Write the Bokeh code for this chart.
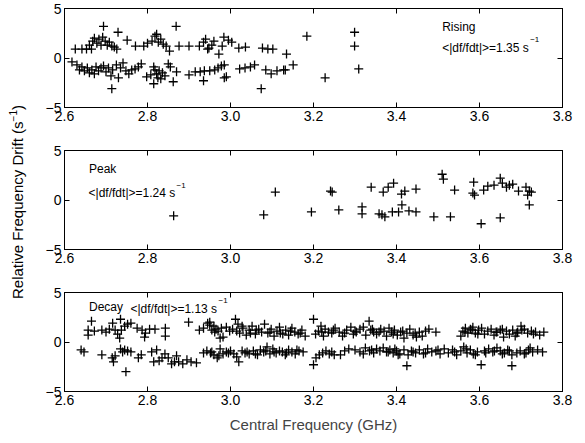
from bokeh.plotting import figure
from bokeh.layouts import column, row
from bokeh.models import (Div, Label, LinearAxis, FixedTicker, NumeralTickFormatter,
                          CustomJSTickFormatter, Range1d)
from bokeh.embed import file_html
from bokeh.resources import INLINE

X_TICKS = [2.6, 2.8, 3.0, 3.2, 3.4, 3.6, 3.8]
Y_TICKS = [-5, 0, 5]

# ---- Rising ----
rise_x = [2.694, 2.869, 2.729, 2.751, 2.626, 2.642, 2.653, 2.665, 2.660, 2.668, 2.672, 2.678,
          2.683, 2.688, 2.692, 2.698, 2.703, 2.708, 2.714, 2.726, 2.720, 2.771, 2.791, 2.800,
          2.811, 2.818, 2.822, 2.826, 2.832, 2.838, 2.845, 2.853, 2.876, 2.900, 2.925, 2.935,
          2.940, 2.948, 2.955, 2.960, 2.945, 2.972, 2.980, 2.984, 2.995, 3.003, 3.020, 3.036,
          3.077, 3.090, 3.102, 3.135, 3.184, 3.299, 3.299,
          2.618, 2.630, 2.636, 2.642, 2.648, 2.655, 2.660, 2.666, 2.672, 2.676, 2.682, 2.688,
          2.694, 2.700, 2.706, 2.712, 2.716, 2.725, 2.730, 2.735, 2.741, 2.748, 2.755, 2.762,
          2.770, 2.778, 2.785, 2.714, 2.798, 2.808, 2.815, 2.818, 2.822, 2.825, 2.828, 2.832,
          2.836, 2.842, 2.815, 2.850, 2.855, 2.862, 2.870, 2.900, 2.915, 2.927, 2.937, 2.935,
          2.950, 2.962, 2.970, 2.978, 2.985, 2.990, 2.985, 3.022, 3.035, 3.048, 3.058, 3.074,
          3.085, 3.098, 3.112, 3.128, 3.132, 3.151, 3.228, 3.309]
rise_y = [3.2, 3.2, 2.6, 1.8, 0.9, 0.9, 0.9, 0.9, 1.3, 1.7, 2.0, 1.5,
          1.9, 1.3, 2.1, 1.7, 1.3, 1.6, 1.2, 0.9, 1.1, 1.2, 1.2, 1.5,
          1.7, 2.2, 2.4, 1.6, 1.9, 1.4, 1.2, 0.7, 1.2, 1.2, 1.2, 1.6,
          1.9, 1.0, 1.3, 1.7, 0.9, 0.4, 1.2, 2.1, 1.8, 1.6, 1.0, 1.1,
          1.0, 0.9, 0.9, 0.4, 2.2, 2.6, 1.2,
          -0.4, -0.7, -1.2, -0.9, -1.3, -1.0, -1.5, -1.2, -1.6, -0.9, -1.3, -1.0,
          -0.8, -1.4, -1.0, -1.8, -1.2, -0.7, -2.0, -1.0, -0.5, -1.3, -1.6, -1.2,
          -1.1, -0.9, -0.6, -3.1, -1.9, -1.7, -0.9, -1.2, -1.6, -2.0, -1.3, -2.1,
          -1.5, -1.8, -2.6, -0.6, -0.9, -2.4, -1.4, -1.7, -1.4, -1.4, -1.3, -2.3,
          -1.3, -1.2, -1.0, -0.8, -0.7, -1.9, -2.0, -1.1, -1.0, -0.9, -0.7, -3.1,
          -1.2, -1.6, -1.3, -1.2, -1.2, -0.7, -2.0, -1.1]

# ---- Peak ----
peak_x = [2.863, 3.080, 3.108, 3.195, 3.241, 3.245, 3.261, 3.317, 3.317, 3.339, 3.358, 3.365,
          3.372, 3.368, 3.380, 3.393, 3.390, 3.405, 3.412, 3.420, 3.413, 3.430, 3.447, 3.447,
          3.490, 3.510, 3.513, 3.530, 3.540, 3.586, 3.584, 3.588, 3.604, 3.610, 3.620, 3.635,
          3.650, 3.655, 3.650, 3.665, 3.672, 3.680, 3.694, 3.712, 3.716, 3.720, 3.725, 3.720]
peak_y = [-1.6, -1.5, 0.8, -1.2, 0.9, 0.8, -1.0, -0.7, -1.4, 1.3, -1.4, -1.5,
          -1.7, 0.8, 1.3, 1.7, -1.2, -1.2, 0.6, 0.9, -0.5, -1.1, -1.2, 1.1,
          -1.7, 2.6, 2.1, -1.7, 1.0, 1.8, 0.7, 0.5, -2.4, 1.0, 1.4, 1.5,
          2.2, 1.7, -1.8, 1.3, 1.5, 1.6, 0.9, 1.3, 0.5, 0.9, 0.8, -0.5]

# ---- Decay ----
decay_up_x = [2.657, 2.657, 2.665, 2.672, 2.690, 2.700, 2.708, 2.716, 2.722, 2.728, 2.733, 2.737,
              2.735, 2.745, 2.752, 2.760, 2.775, 2.787, 2.793, 2.795, 2.805, 2.818, 2.843, 2.843,
              2.899, 2.925, 2.935, 2.945, 2.950, 2.955, 2.960, 2.965, 2.970, 2.975, 2.982, 2.990,
              2.998, 3.005, 3.012, 3.018, 3.022, 3.030, 3.038, 3.045, 3.052, 3.060, 3.068, 3.075,
              3.082, 3.090, 3.098, 3.105, 3.112, 3.118, 3.126, 3.133, 3.140, 3.148, 3.155, 3.163,
              3.172, 3.180, 3.200, 3.205, 3.212, 3.218, 3.224, 3.228, 3.236, 3.244, 3.252, 3.262,
              3.270, 3.280, 3.290, 3.296, 3.303, 3.312, 3.320, 3.326, 3.334, 3.338, 3.345, 3.352,
              3.362, 3.370, 3.376, 3.382, 3.388, 3.395, 3.402, 3.410, 3.418, 3.425, 3.432, 3.440,
              3.448, 3.455, 3.462, 3.470, 3.478, 3.495, 3.555, 3.560, 3.566, 3.572, 3.578, 3.584,
              3.590, 3.598, 3.605, 3.612, 3.620, 3.628, 3.635, 3.642, 3.650, 3.658, 3.665, 3.672,
              3.680, 3.686, 3.692, 3.700, 3.708, 3.716, 3.725, 3.735, 3.745, 3.755,
              2.950, 2.962, 2.978, 3.015, 3.028, 3.048, 3.062, 3.095, 3.120, 3.145, 3.168, 3.220,
              3.248, 3.275, 3.300, 3.342, 3.358, 3.392, 3.415, 3.445, 3.565, 3.582, 3.596, 3.640,
              3.655, 3.690, 3.702, 3.730]
decay_up_y = [1.2, 0.7, 2.1, 1.1, 1.2, 1.0, 1.3, 1.9, 1.2, 0.8, 0.4, 1.2,
              2.3, 1.6, 1.8, 1.9, 1.4, 1.2, 0.5, 0.9, 1.3, 1.3, 1.4, 0.6,
              2.0, 1.2, 1.4, 1.9, 2.0, 1.2, 1.6, 1.3, 1.1, 0.4, 0.5, 1.5,
              1.1, 1.3, 2.3, 1.8, 0.9, 1.4, 0.7, 1.2, 1.6, 0.8, 1.3, 1.0,
              1.8, 0.9, 1.3, 0.6, 1.1, 1.5, 0.8, 1.2, 0.7, 1.4, 1.0, 0.8,
              1.2, 0.6, 2.3, 0.8, 1.1, 1.6, 0.6, 1.3, 1.0, 0.9, 1.4, 1.0,
              0.6, 1.2, 1.5, 0.8, 1.0, 1.3, 1.5, 0.7, 2.1, 1.2, 1.0, 0.8,
              1.3, 1.1, 0.6, 1.4, 1.0, 1.2, 0.7, 1.0, 0.4, 0.9, 1.3, 0.7,
              0.5, 1.0, 0.6, 1.1, 1.3, 1.0, 0.6, 1.1, 1.4, 0.9, 1.3, 1.5,
              0.9, 1.2, 1.4, 0.8, 1.1, 1.3, 0.7, 1.0, 1.2, 0.5, 1.1, 0.8,
              1.2, 0.6, 1.0, 1.6, 1.3, 0.9, 1.1, 1.0, 0.7, 1.0,
              1.7, 1.0, 1.4, 1.1, 1.6, 0.9, 1.2, 1.0, 0.9, 1.1, 0.9, 1.0,
              1.2, 0.9, 1.1, 1.3, 1.0, 0.8, 1.1, 0.9, 1.0, 1.2, 0.8, 1.0,
              1.3, 0.9, 1.2, 0.8]
decay_dn_x = [2.640, 2.647, 2.690, 2.715, 2.718, 2.722, 2.735, 2.740, 2.745, 2.752, 2.760, 2.748,
              2.778, 2.785, 2.810, 2.815, 2.822, 2.828, 2.835, 2.842, 2.850, 2.858, 2.865, 2.870,
              2.875, 2.885, 2.895, 2.905, 2.918, 2.935, 2.943, 2.952, 2.960, 2.968, 2.975, 2.982,
              2.990, 3.000, 3.008, 3.015, 3.020, 3.028, 3.035, 3.045, 3.055, 3.065, 3.072, 3.080,
              3.088, 3.095, 3.102, 3.110, 3.118, 3.125, 3.132, 3.140, 3.148, 3.156, 3.165, 3.175,
              3.200, 3.206, 3.214, 3.222, 3.230, 3.238, 3.250, 3.265, 3.275, 3.285, 3.300, 3.312,
              3.325, 3.335, 3.345, 3.352, 3.360, 3.368, 3.376, 3.384, 3.392, 3.400, 3.408, 3.425,
              3.418, 3.428, 3.436, 3.446, 3.455, 3.465, 3.475, 3.485, 3.495, 3.505, 3.515, 3.525,
              3.535, 3.545, 3.555, 3.562, 3.570, 3.578, 3.585, 3.595, 3.604, 3.612, 3.622, 3.632,
              3.642, 3.650, 3.660, 3.668, 3.678, 3.678, 3.690, 3.698, 3.708, 3.718, 3.728, 3.740,
              3.752,
              2.955, 2.972, 2.995, 3.040, 3.060, 3.085, 3.105, 3.135, 3.160, 3.244, 3.320, 3.340,
              3.380, 3.396, 3.404, 3.440, 3.470, 3.500, 3.540, 3.568, 3.590, 3.615, 3.636, 3.655,
              3.672, 3.712, 3.722]
decay_dn_y = [-0.8, -1.0, -1.3, -1.6, -2.0, -1.4, -0.7, -1.0, -0.8, -0.9, -1.0, -3.0,
              -1.6, -1.3, -1.0, -2.0, -0.8, -1.9, -1.6, -1.2, -1.6, -2.2, -2.0, -1.4,
              -2.0, -2.2, -1.8, -2.0, -2.1, -1.1, -0.9, -1.1, -1.3, -1.6, -0.7, -1.2,
              -1.0, -0.9, -1.2, -1.5, -2.0, -0.9, -1.1, -1.2, -0.9, -1.3, -0.8, -1.0,
              -0.5, -1.2, -0.7, -1.1, -0.9, -1.0, -1.3, -0.8, -1.0, -1.2, -0.9, -1.0,
              -2.3, -1.6, -1.3, -1.1, -0.9, -1.2, -1.3, -1.3, -0.9, -0.7, -0.8, -1.0,
              -0.6, -0.9, -1.1, -0.7, -0.9, -0.6, -1.0, -0.8, -1.1, -0.9, -1.2, -2.4,
              -0.8, -1.3, -0.9, -1.1, -0.8, -1.2, -0.7, -1.0, -0.9, -1.2, -0.7, -1.1,
              -0.8, -1.3, -0.9, -0.5, -1.1, -0.8, -1.2, -1.0, -2.3, -0.9, -0.7, -1.0,
              -0.6, -0.9, -1.1, -0.8, -1.3, -2.4, -1.1, -0.9, -1.2, -0.8, -1.0, -0.8,
              -1.0,
              -1.0, -1.4, -1.1, -1.0, -1.2, -0.9, -1.0, -1.1, -0.8, -1.0, -1.2, -0.8,
              -1.0, -0.7, -1.3, -1.0, -1.1, -0.8, -1.0, -0.7, -1.3, -1.1, -0.9, -1.2,
              -0.9, -1.1, -0.6]

RISE_TXT = "<|df/fdt|>=1.35 s"
PEAK_TXT = "<|df/fdt|>=1.24 s"
DECAY_TXT = "<|df/fdt|>=1.13 s"
SUP = "\u22121"

FONT = "Liberation Sans"


def make_panel(height, bt, bb, xlabel=None):
    p = figure(width=540, height=height, x_range=Range1d(2.6, 3.8), y_range=Range1d(-5, 5),
               output_backend="svg", toolbar_location=None,
               min_border_left=28, min_border_right=14, min_border_top=bt, min_border_bottom=bb)
    p.grid.visible = False
    p.outline_line_color = "black"
    p.outline_line_alpha = 1.0
    p.outline_line_width = 1
    p.background_fill_color = "white"
    p.border_fill_color = "white"

    xa = p.xaxis[0]
    xa.ticker = FixedTicker(ticks=X_TICKS)
    xa.formatter = NumeralTickFormatter(format="0.0")
    ya = p.yaxis[0]
    ya.ticker = FixedTicker(ticks=Y_TICKS)
    ya.formatter = CustomJSTickFormatter(code="return tick < 0 ? '\\u2212' + Math.abs(tick) : String(tick);")
    for ax in (xa, ya):
        ax.major_tick_in = 5
        ax.major_tick_out = 0
        ax.minor_tick_line_color = None
        ax.major_label_text_font = FONT
        ax.major_label_text_font_size = "14px"
        ax.major_label_text_color = "black"
        ax.axis_line_color = "black"
        ax.major_tick_line_color = "black"
        ax.major_label_standoff = 3
    if xlabel:
        xa.axis_label = xlabel
        xa.axis_label_text_font = FONT
        xa.axis_label_text_font_size = "15px"
        xa.axis_label_text_font_style = "normal"
        xa.axis_label_standoff = 8

    # mirrored ticks and box lines on top and right
    top = LinearAxis(ticker=FixedTicker(ticks=X_TICKS),
                     formatter=CustomJSTickFormatter(code="return '';"))
    right = LinearAxis(ticker=FixedTicker(ticks=Y_TICKS),
                       formatter=CustomJSTickFormatter(code="return '';"))
    for ax in (top, right):
        ax.major_tick_in = 5
        ax.major_tick_out = 0
        ax.minor_tick_line_color = None
        ax.axis_line_color = "black"
        ax.major_label_standoff = 0
        ax.major_label_text_font_size = "5px"
        ax.major_tick_line_color = "black"
    p.add_layout(top, "above")
    p.add_layout(right, "right")
    return p


def add_stat(p, x, y, txt):
    p.add_layout(Label(x=x, y=y, text=txt, text_font=FONT, text_font_size="12px",
                       text_baseline="middle", text_color="black"))
    p.add_layout(Label(x=x, y=y, x_offset=88, y_offset=8, text=SUP, text_font=FONT,
                       text_font_size="8px", text_baseline="middle", text_color="black"))


def scatter(p, xs, ys):
    p.scatter(xs, ys, marker="cross", size=9, line_color="black", line_width=1.3)


p1 = make_panel(142, 8, 35)
scatter(p1, rise_x, rise_y)
p1.add_layout(Label(x=3.51, y=3.15, text="Rising", text_font=FONT, text_font_size="12px",
                    text_baseline="middle", text_color="black"))
add_stat(p1, 3.51, 1.05, RISE_TXT)

p2 = make_panel(142, 8, 35)
scatter(p2, peak_x, peak_y)
p2.add_layout(Label(x=2.659, y=3.15, text="Peak", text_font=FONT, text_font_size="12px",
                    text_baseline="middle", text_color="black"))
add_stat(p2, 2.658, 0.7, PEAK_TXT)

p3 = make_panel(153, 8, 46, xlabel="Central Frequency (GHz)")
scatter(p3, decay_up_x, decay_up_y)
scatter(p3, decay_dn_x, decay_dn_y)
p3.add_layout(Label(x=2.659, y=3.5, text="Decay", text_font=FONT, text_font_size="12px",
                    text_baseline="middle", text_color="black"))
add_stat(p3, 2.759, 3.35, DECAY_TXT)

ylabel = Div(width=26, height=437,
             text=('<div style="position:absolute; left:13px; top:197px; '
                   'transform:translate(-50%,-50%) rotate(-90deg); white-space:nowrap; '
                   'font-family:\'Liberation Sans\'; font-size:15px; color:black;">'
                   'Relative Frequency Drift (s<sup style="font-size:10px">\u22121</sup>)</div>'))

layout = row(ylabel, column(p1, p2, p3, spacing=0), spacing=0)

open("out.html", "w").write(file_html(layout, INLINE))
